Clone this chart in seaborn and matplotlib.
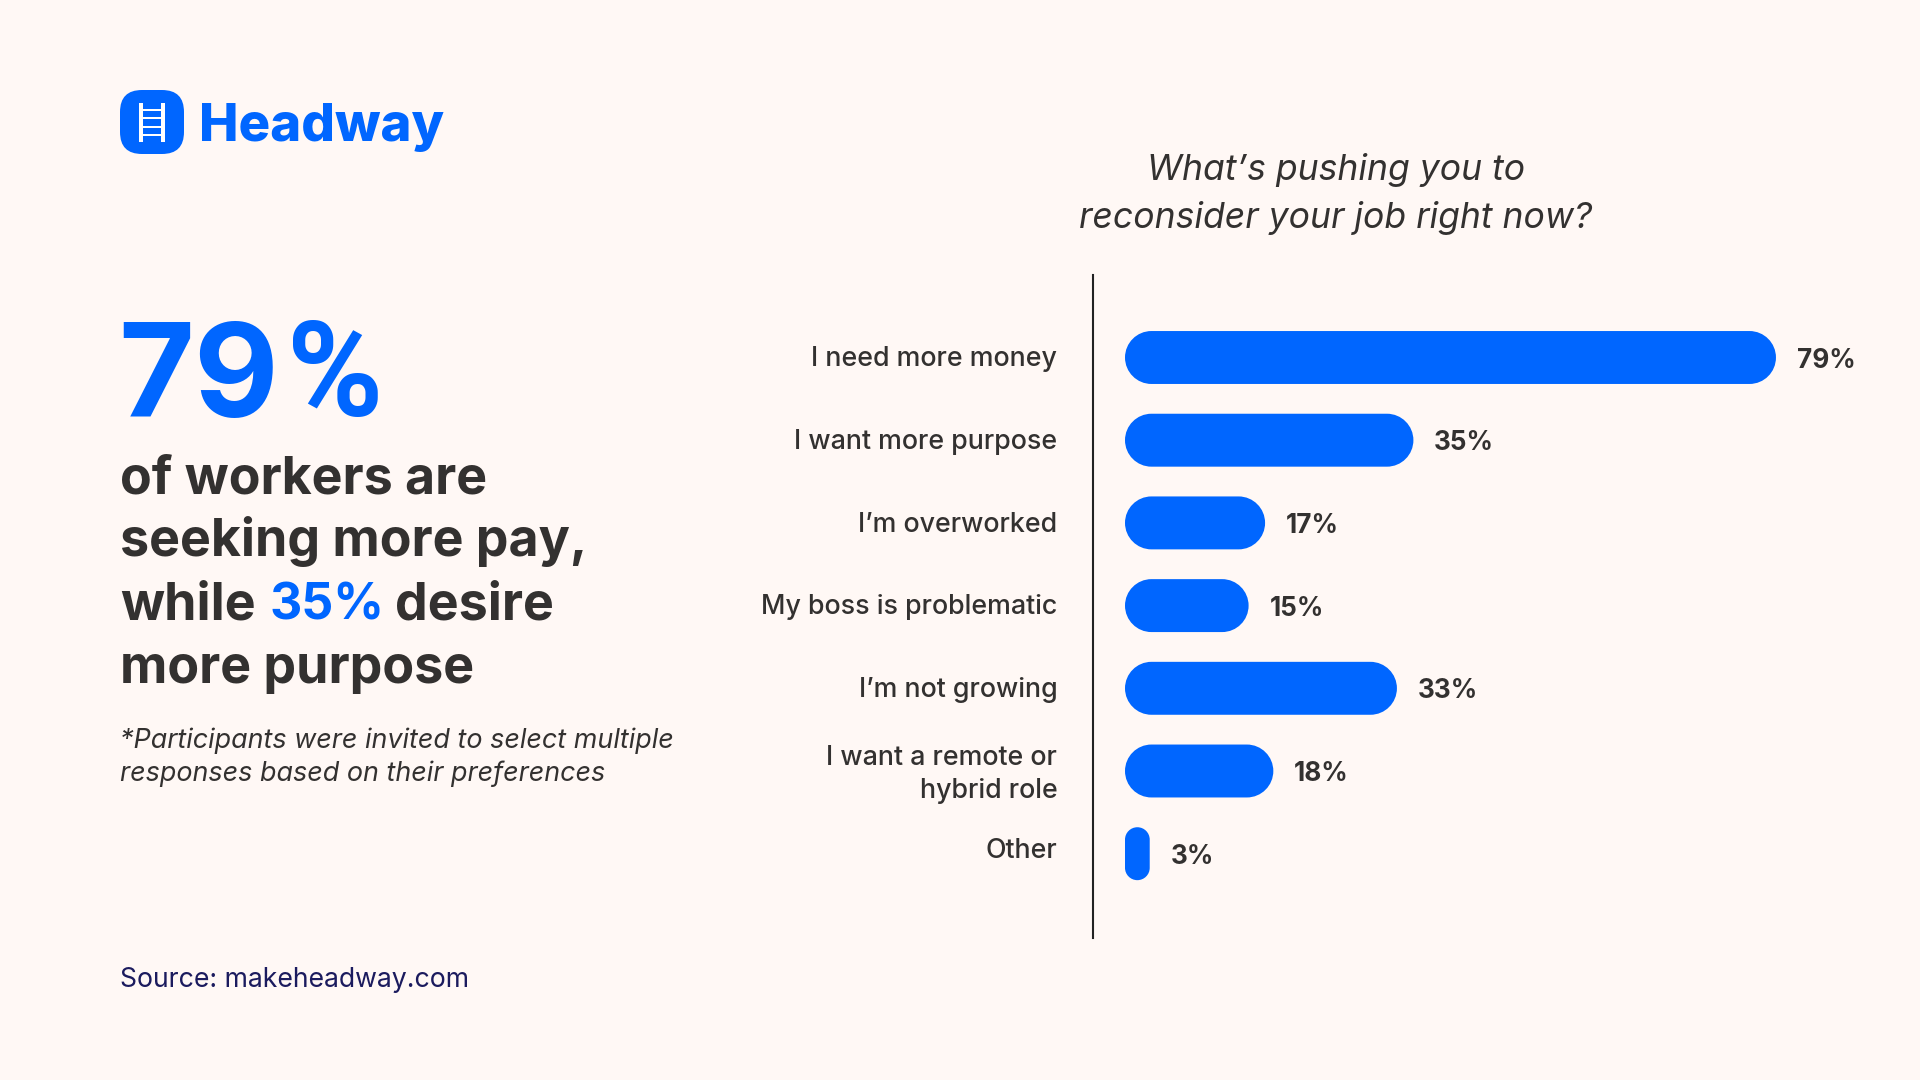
import matplotlib
matplotlib.use('Agg')
import matplotlib.pyplot as plt
from matplotlib.patches import FancyBboxPatch, PathPatch
from matplotlib.path import Path
from matplotlib.transforms import ScaledTranslation
import pandas as pd
import seaborn as sns

# data
answers = ['I need more money', 'I want more purpose', 'I\u2019m overworked', 'My boss is problematic',
           'I\u2019m not growing', 'I want a remote or\nhybrid role', 'Other']
shares = [79, 35, 17, 15, 33, 18, 3]

BG = '#FFF8F5'
BLUE = '#0066FF'
DARK = '#333130'
NAVY = '#1B1B5E'


def pill(x, y, w, h, rx, ry):
    # rounded bar with true circular ends (FancyBboxPatch corners come out too square)
    k = 0.5523
    dx, dy = rx * (1 - k), ry * (1 - k)
    verts = [(x + rx, y), (x + w - rx, y),
             (x + w - dx, y), (x + w, y + dy), (x + w, y + ry), (x + w, y + h - ry),
             (x + w, y + h - dy), (x + w - dx, y + h), (x + w - rx, y + h), (x + rx, y + h),
             (x + dx, y + h), (x, y + h - dy), (x, y + h - ry), (x, y + ry),
             (x, y + dy), (x + dx, y), (x + rx, y), (x + rx, y)]
    C, L = Path.CURVE4, Path.LINETO
    codes = [Path.MOVETO, L, C, C, C, L, C, C, C, L, C, C, C, L, C, C, C, Path.CLOSEPOLY]
    return Path(verts, codes)


sns.set_theme(style='white')
plt.rcParams['font.family'] = ['Inter', 'DejaVu Sans']

df = pd.DataFrame({'answer': answers, 'share': shares})

fig = plt.figure(figsize=(19.2, 10.8), dpi=100, facecolor=BG)

# --- chart, axes placed in pixels of the 1920x1080 canvas ---
left, right, top, bottom = 1093, 1900, 275, 938
ax = fig.add_axes([left / 1920, 1 - bottom / 1080, (right - left) / 1920, (bottom - top) / 1080])
ax.set_facecolor('none')
sns.barplot(data=df, x='share', y='answer', color=BLUE, width=0.64, saturation=1, ax=ax)

px_per_unit = 8.24
ax.set_xlim(-(1125 - left) / px_per_unit, (right - 1125) / px_per_unit)
step = 82.7
ax.set_ylim((bottom - 357.5) / step, (top - 357.5) / step)

labels = ax.bar_label(ax.containers[0], fmt='%g%%', padding=15, fontsize=18.8, fontweight='bold', color=DARK)
for t in labels:
    t.xyann = (t.xyann[0], t.xyann[1] - 2.2)

# swap the square bars for pills
aspect = px_per_unit / step
for bar in ax.containers[0]:
    x, y, w, h = bar.get_x(), bar.get_y(), bar.get_width(), bar.get_height()
    r = min(w, h / aspect) / 2
    bar.set_visible(False)
    ax.add_patch(PathPatch(pill(x, y, w, h, r, r * aspect), fc=BLUE, ec='none'))

sns.despine(ax=ax, left=False, bottom=True)
ax.spines['left'].set_color('#222222')
ax.spines['left'].set_linewidth(1.5)
ax.set_xticks([])
ax.set_xlabel('')
ax.set_ylabel('')
ax.tick_params(axis='y', length=0, pad=25.7, labelsize=19.3, labelcolor=DARK)
for lab in ax.get_yticklabels():
    lab.set_linespacing(1.35)
    lab.set_fontweight('medium')
    text = lab.get_text()
    shift = 3.8 if text == 'Other' else 2.4 if '\n' in text else 0.8
    lab.set_transform(lab.get_transform() + ScaledTranslation(0, shift / 72, fig.dpi_scale_trans))

# --- overlay for the text panel and logo, in canvas pixels ---
over = fig.add_axes([0, 0, 1, 1], zorder=-1)
over.set_xlim(0, 1920)
over.set_ylim(1080, 0)
over.axis('off')

over.add_patch(FancyBboxPatch((120, 90), 64, 64, boxstyle='round,pad=0,rounding_size=22', fc=BLUE, ec='none'))
for rail_x in [139, 161]:
    over.add_patch(plt.Rectangle((rail_x, 102.5), 3.5, 39, fc='white', ec='none'))
for rung_y in [108.5, 117, 125.5, 134]:
    over.add_patch(plt.Rectangle((139, rung_y), 25, 2.3, fc='white', ec='none'))
over.text(199, 141, 'Headway', color=BLUE, fontsize=38, fontweight='extra bold', va='baseline')

over.text(118, 417, '79', color=BLUE, fontsize=94, fontweight='bold', va='baseline')
over.text(287, 416, '%', color=BLUE, fontsize=94, fontweight='bold', family=['Roboto', 'DejaVu Sans'], va='baseline')

head_size = 37.4
line_h = 63.3
base = 493
over.text(120, base, 'of workers are', color=DARK, fontsize=head_size, fontweight='bold', va='baseline')
over.text(120, base + line_h, 'seeking more pay,', color=DARK, fontsize=head_size, fontweight='bold', va='baseline')
over.text(120, base + 2 * line_h, 'while', color=DARK, fontsize=head_size, fontweight='bold', va='baseline')
over.text(270, base + 2 * line_h, '35%', color=BLUE, fontsize=36, fontweight='bold', va='baseline')
over.text(395, base + 2 * line_h, 'desire', color=DARK, fontsize=head_size, fontweight='bold', va='baseline')
over.text(120, base + 3 * line_h, 'more purpose', color=DARK, fontsize=head_size, fontweight='bold', va='baseline')

over.text(120, 748, '*Participants were invited to select multiple', color=DARK, fontsize=19.4, style='italic', va='baseline')
over.text(120, 781, 'responses based on their preferences', color=DARK, fontsize=19.4, style='italic', va='baseline')

over.text(1336, 180, 'What\u2019s pushing you to', color=DARK, fontsize=25.6, style='italic', ha='center', va='baseline')
over.text(1336, 228, 'reconsider your job right now?', color=DARK, fontsize=25.6, style='italic', ha='center', va='baseline')

over.text(120, 987, 'Source: makeheadway.com', color=NAVY, fontsize=19.2, va='baseline')

fig.savefig('out.png', dpi=100, facecolor=BG)
